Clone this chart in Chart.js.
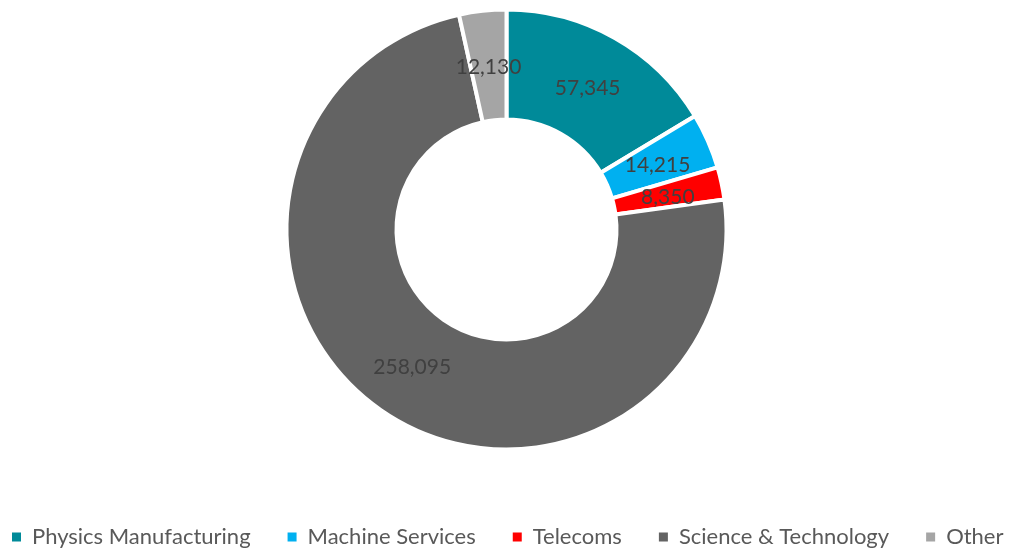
<!DOCTYPE html>
<html lang="en">
<head>
    <meta charset="UTF-8">
    <title>Sector Breakdown</title>
    <script src="https://cdn.jsdelivr.net/npm/chart.js"></script>
    <style>
        body {
            margin: 0;
            background: #ffffff;
            overflow: hidden;
            width: 1013px;
            height: 549px;
        }
        .wrap {
            position: relative;
            top: -30px;
            width: 1013px;
            height: 588px;
        }
    </style>
</head>
<body>
    <div class="wrap">
        <canvas id="donut"></canvas>
    </div>

    <script>
        // sectors and their totals
        const sectors = ["Physics Manufacturing", "Machine Services", "Telecoms", "Science & Technology", "Other"];
        const totals = [57345, 14215, 8350, 258095, 12130];
        const sliceColors = ["#008A99", "#00B0F0", "#FF0000", "#636363", "#A5A5A5"];

        const FONT = "Lato, 'Open Sans', sans-serif";
        const legendSize = 22;
        const labelSize = 21;
        const boxSize = 9;
        const legendGap = 37;

        // legend row width, so the row is laid out on one line starting near the left edge
        let measure = document.createElement("canvas").getContext("2d");
        measure.font = legendSize + "px " + FONT;
        let rowWidth = 0;
        sectors.forEach(s => {
            rowWidth += boxSize + legendSize / 2 + measure.measureText(s).width;
        });
        const padLeft = 12 - legendGap;
        const padRight = 1013 - padLeft - (rowWidth + 6 * legendGap + 2);

        // writes each value in the middle of its ring segment
        const valueLabels = {
            id: "valueLabels",
            afterDatasetsDraw(chart) {
                const ctx = chart.ctx;
                const meta = chart.getDatasetMeta(0);
                ctx.save();
                ctx.font = labelSize + "px " + FONT;
                ctx.fillStyle = "#404040";
                ctx.textAlign = "center";
                ctx.textBaseline = "middle";
                meta.data.forEach((arc, i) => {
                    const p = arc.getCenterPoint();
                    ctx.fillText(totals[i].toLocaleString("en-US"), p.x, p.y + 2);
                });
                ctx.restore();
            }
        };

        let ctx = document.getElementById("donut").getContext("2d");
        let donut = new Chart(ctx, {
            type: "doughnut",
            data: {
                labels: sectors,
                datasets: [{
                    data: totals,
                    backgroundColor: sliceColors,
                    borderColor: "#ffffff",
                    borderWidth: 4
                }]
            },
            options: {
                responsive: true,
                maintainAspectRatio: false,
                animation: false,
                radius: 220,
                cutout: "50%",
                layout: {
                    padding: { top: 0, bottom: 0, left: padLeft, right: padRight }
                },
                plugins: {
                    tooltip: { enabled: false },
                    legend: {
                        position: "bottom",
                        align: "start",
                        labels: {
                            boxWidth: boxSize,
                            boxHeight: boxSize,
                            padding: legendGap,
                            color: "#595959",
                            font: { family: FONT, size: legendSize },
                            generateLabels(chart) {
                                return sectors.map((s, i) => ({
                                    text: s,
                                    fillStyle: sliceColors[i],
                                    strokeStyle: sliceColors[i],
                                    lineWidth: 0,
                                    fontColor: "#595959",
                                    index: i,
                                    hidden: false
                                }));
                            }
                        }
                    }
                }
            },
            plugins: [valueLabels]
        });
    </script>
</body>
</html>
